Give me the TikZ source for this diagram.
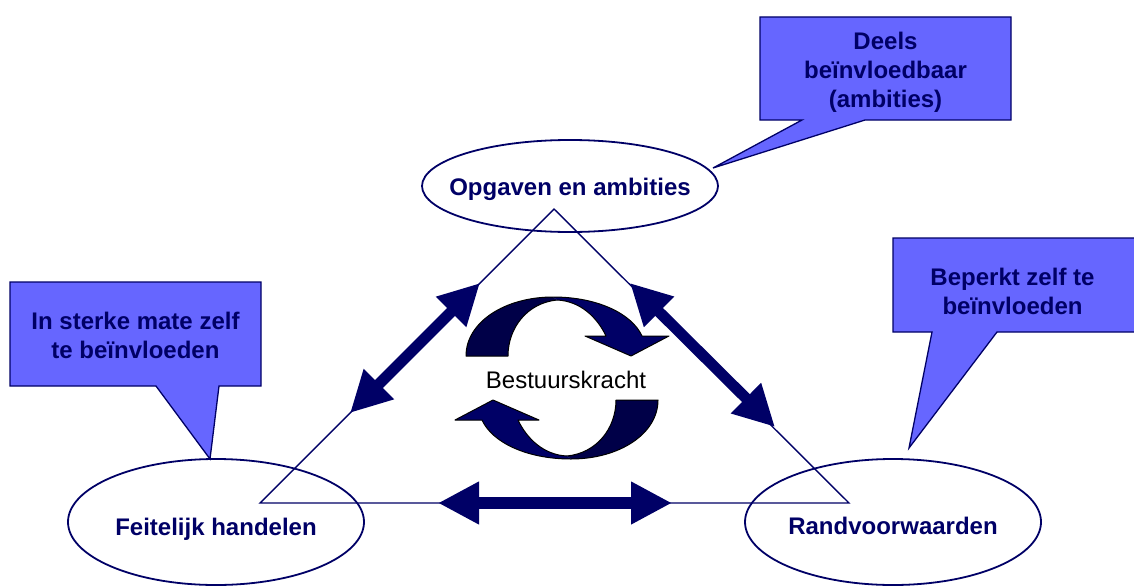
\documentclass[tikz,border=0pt]{standalone}
\usepackage{fontspec}
\setmainfont{Liberation Sans}
\usetikzlibrary{shapes.geometric,arrows.meta}
\definecolor{navy}{RGB}{0,0,102}
\definecolor{navydark}{RGB}{0,0,72}
\definecolor{callfill}{RGB}{102,102,255}
\newcommand{\cyclearrowpieces}{%
  % left (darker) piece
  \fill[navydark] (466,356) .. controls (466,322) and (505,297) .. (553,297)
    -- (557,300) .. controls (527,303) and (508,328) .. (508,356) -- cycle;
  % right piece with head
  \fill[navy] (553,297) .. controls (598,297) and (632,314) .. (642,336)
    -- (669,336) -- (631,356) -- (585,336) -- (606,336)
    .. controls (597,317) and (580,301) .. (557,300) -- cycle;
  % outline
  \draw[black, line width=1pt, line join=round]
    (466,356) .. controls (466,322) and (505,297) .. (553,297)
    .. controls (598,297) and (632,314) .. (642,336)
    -- (669,336) -- (631,356) -- (585,336) -- (606,336)
    .. controls (597,317) and (580,301) .. (557,300)
    .. controls (527,303) and (508,328) .. (508,356) -- cycle;
}
\begin{document}
\begin{tikzpicture}[x=1pt,y=-1pt,
  oval/.style={ellipse, draw=navy, line width=1.8pt, inner sep=0pt, minimum width=296pt, minimum height=126pt},
  lbl/.style={anchor=base, inner sep=0pt, text=navy, font=\fontsize{24}{29}\selectfont\bfseries},
  calloutbox/.style={fill=callfill, draw=navy, line width=1.3pt, line join=miter},
  ctext/.style={anchor=base, inner sep=0pt, text=navy, font=\fontsize{24}{29}\selectfont\bfseries},
  triline/.style={draw=navy, line width=1.4pt},
  dblarrow/.style={draw=navy, line width=11pt, {Triangle[length=41pt,width=40pt]}-{Triangle[length=41pt,width=40pt]}}
]
\useasboundingbox (0,0) rectangle (1134,586);

% ellipses
\node[oval, minimum height=92pt] (opg) at (570,186) {};
\node[oval] (feit) at (216,522) {};
\node[oval] (rand) at (893,522) {};
\node[lbl] (opgL) at (570,195) {Opgaven en ambities};
\node[lbl] (feitL) at (216,535) {Feitelijk handelen};
\node[lbl] (randL) at (893,534) {Randvoorwaarden};

% triangle
\coordinate (tT) at (554,209);
\coordinate (tL) at (260,503);
\coordinate (tR) at (849,503);
\draw[triline, line join=miter] (tT) -- (tL) -- (tR) -- cycle;

% callouts
\draw[calloutbox] (760,17) -- (1011,17) -- (1011,120) -- (865,120) -- (713,168) -- (802,120) -- (760,120) -- cycle;
\node[ctext] (c1) at (885.5,49) {\begin{tabular}[t]{@{}c@{}}Deels\\beïnvloedbaar\\(ambities)\end{tabular}};
\draw[calloutbox] (10,282) -- (261,282) -- (261,386) -- (219,386) -- (210,459) -- (156,386) -- (10,386) -- cycle;
\node[ctext] (c2) at (135.5,329) {\begin{tabular}[t]{@{}c@{}}In sterke mate zelf\\te beïnvloeden\end{tabular}};
\draw[calloutbox] (893,238) -- (1140,238) -- (1140,332) -- (997,332) -- (909,448) -- (932,332) -- (893,332) -- cycle;
\node[ctext] (c3) at (1012.5,285) {\begin{tabular}[t]{@{}c@{}}Beperkt zelf te\\beïnvloeden\end{tabular}};

% double arrows
\coordinate (aL1) at (350,413);
\coordinate (aL2) at (480,283);
\coordinate (aR1) at (630,283);
\coordinate (aR2) at (775,427);
\coordinate (aB1) at (438,503);
\coordinate (aB2) at (672,503);
\draw[dblarrow] (aL1) -- (aL2);
\draw[dblarrow] (aR1) -- (aR2);
\draw[dblarrow, line width=12pt] (aB1) -- (aB2);

% cycle arrows
\cyclearrowpieces
\begin{scope}[rotate around={180:(562,378)}]
\cyclearrowpieces
\end{scope}
\node[anchor=base, inner sep=0pt, font=\fontsize{24}{29}\selectfont] (best) at (566,388) {Bestuurskracht};
\end{tikzpicture}
\end{document}
